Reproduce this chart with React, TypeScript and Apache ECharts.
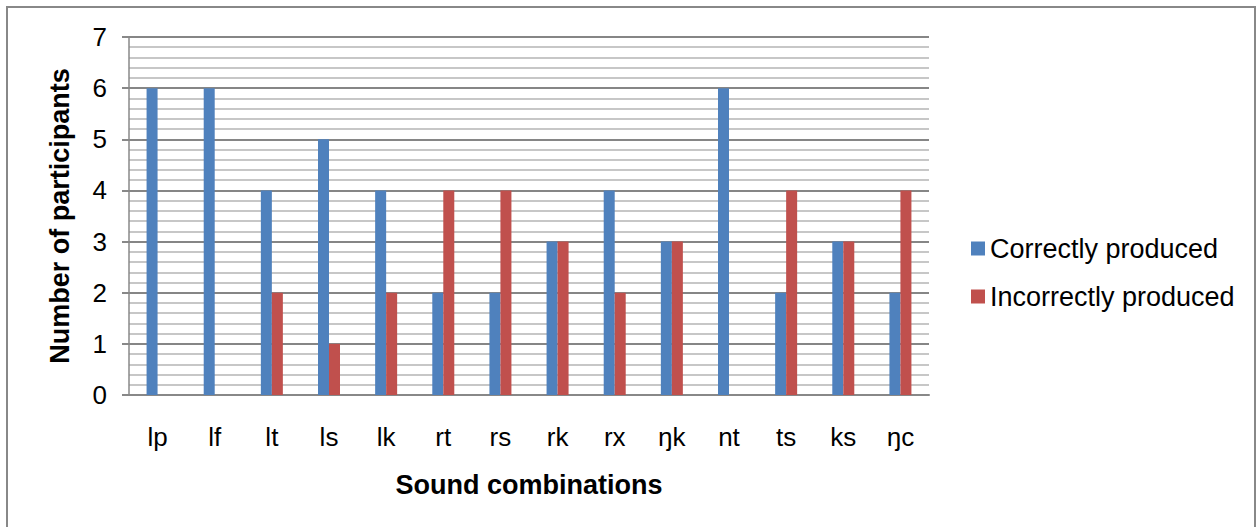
import React, { useEffect, useRef } from "react";
import * as echarts from "echarts";

const categories = ["lp", "lf", "lt", "ls", "lk", "rt", "rs", "rk", "rx", "ŋk", "nt", "ts", "ks", "ŋc"];
const correctlyProduced = [6, 6, 4, 5, 4, 2, 2, 3, 4, 3, 6, 2, 3, 2];
const incorrectlyProduced = [0, 0, 2, 1, 2, 4, 4, 3, 2, 3, 0, 4, 3, 4];
const seriesNames = ["Correctly produced", "Incorrectly produced"];
const yTicks = [0, 7, 1];

const FONT = "'Liberation Sans', Arial, sans-serif";

export default function App() {
  const ref = useRef<HTMLDivElement>(null);
  useEffect(() => {
    if (!ref.current) return;
    const chart = echarts.init(ref.current, null, { renderer: "svg" });
    chart.setOption({
      animation: false,
      backgroundColor: "#fff",
      textStyle: { fontFamily: FONT },
      graphic: [
        {
          type: "rect",
          shape: { x: 7, y: 7, width: 1248, height: 540 },
          style: { fill: "none", stroke: "#888", lineWidth: 2 },
          silent: true,
        },
      ],
      legend: {
        orient: "vertical",
        left: 966,
        top: 230,
        itemWidth: 14,
        itemHeight: 14,
        itemGap: 21,
        icon: "rect",
        data: seriesNames,
        textStyle: { fontFamily: FONT, fontSize: 27, lineHeight: 26, color: "#000" },
      },
      grid: { left: 129, right: 330, top: 37, bottom: 132, containLabel: false },
      xAxis: {
        type: "category",
        data: categories,
        name: "Sound combinations",
        nameLocation: "middle",
        nameGap: 76,
        nameTextStyle: { fontFamily: FONT, fontSize: 27, fontWeight: "bold", color: "#000" },
        axisLine: { show: true, lineStyle: { color: "#888", width: 2 } },
        axisTick: { show: false },
        axisLabel: { fontFamily: FONT, fontSize: 26, color: "#000", margin: 29 },
      },
      yAxis: {
        type: "value",
        min: yTicks[0],
        max: yTicks[1],
        interval: yTicks[2],
        name: "Number of participants",
        nameLocation: "middle",
        nameGap: 56,
        nameTextStyle: { fontFamily: FONT, fontSize: 27, fontWeight: "bold", color: "#000" },
        axisLine: { show: true, lineStyle: { color: "#888", width: 1.5 } },
        axisTick: { show: true, length: 7, inside: false, lineStyle: { color: "#888", width: 2 } },
        axisLabel: { fontFamily: FONT, fontSize: 26, color: "#000", margin: 22 },
        splitLine: { show: true, lineStyle: { color: "#868686", width: 2 } },
        minorTick: { show: false, splitNumber: 5 },
        minorSplitLine: { show: true, lineStyle: { color: "#b4b4b4", width: 1.5 } },
      },
      series: [
        {
          name: seriesNames[0],
          type: "bar",
          data: correctlyProduced,
          barWidth: 11,
          barGap: "0%",
          itemStyle: { color: "#4F81BD" },
        },
        {
          name: seriesNames[1],
          type: "bar",
          data: incorrectlyProduced,
          barWidth: 11,
          barGap: "0%",
          itemStyle: { color: "#C0504D" },
        },
      ],
    });
    return () => chart.dispose();
  }, []);
  return (
    <div
      ref={ref}
      style={{ position: "absolute", left: 0, top: 0, width: 1259, height: 527 }}
    />
  );
}
